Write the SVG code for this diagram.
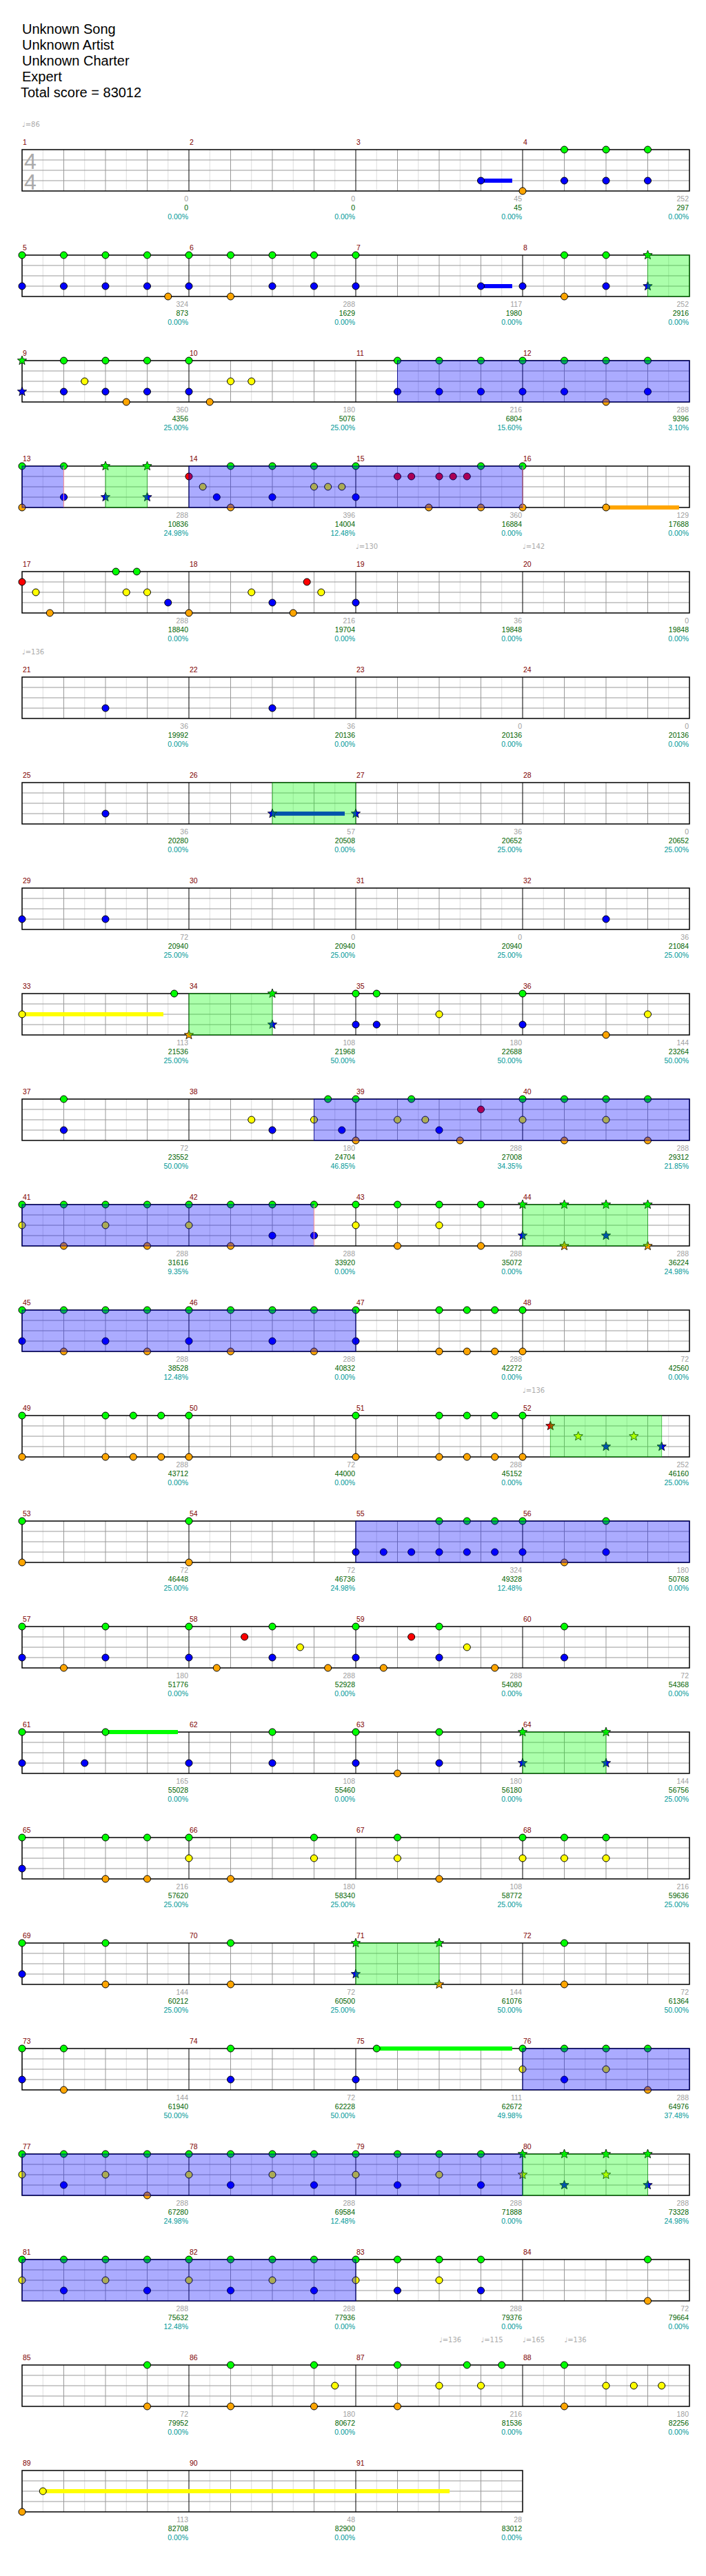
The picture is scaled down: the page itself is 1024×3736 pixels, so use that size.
<svg xmlns="http://www.w3.org/2000/svg" xmlns:xlink="http://www.w3.org/1999/xlink" width="1024" height="3736" viewBox="0 0 1024 3736">
<style>
text{font-family:"Liberation Sans",Arial,sans-serif}
.title{font-size:20px;fill:#000}
.mn{font-size:10.5px;fill:#800000}
.s1,.s2,.s3{font-size:10.5px;text-anchor:end}
.s1{fill:#a0a0a0}.s2{fill:#006400}.s3{fill:#009999}
.tp{font-family:"DejaVu Sans",sans-serif;font-size:10px;fill:#aaa}
.ts{font-size:32px;fill:#aaa}
circle{stroke:#000;stroke-width:1}
.G{fill:#00ff00}.R{fill:#ff0000}.Y{fill:#ffff00}.B{fill:#0000ff}.O{fill:#ffa500}
.bz{fill:#0000ff;fill-opacity:.33;stroke:#00008b;stroke-opacity:.8}
.gz{fill:#00ff00;fill-opacity:.33;stroke:#00a000;stroke-opacity:.6}
.pk{stroke:#ff9090;stroke-width:1}
</style>
<defs>
<path id="st" d="M0,-7 L1.76,-2.43 L6.66,-2.16 L2.85,0.93 L4.11,5.66 L0,3 L-4.11,5.66 L-2.85,0.93 L-6.66,-2.16 L-1.76,-2.43 Z" stroke="#000" stroke-width="0.8"/>
<g id="staff">
<path d="M62.25,0V60M122.75,0V60M183.25,0V60M243.75,0V60M304.25,0V60M364.75,0V60M425.25,0V60M485.75,0V60M546.25,0V60M606.75,0V60M667.25,0V60M727.75,0V60M788.25,0V60M848.75,0V60M909.25,0V60M969.75,0V60" stroke="#dddddd" stroke-width="1"/>
<path d="M92.5,0V60M153,0V60M213.5,0V60M334.5,0V60M395,0V60M455.5,0V60M576.5,0V60M637,0V60M697.5,0V60M818.5,0V60M879,0V60M939.5,0V60M32,15H1000M32,30H1000M32,45H1000" stroke="#999" stroke-width="1"/>
<path d="M274,0V60M516,0V60M758,0V60" stroke="#000" stroke-width="1"/>
<rect x="32" y="0" width="968" height="60" fill="none" stroke="#000" stroke-width="1.5"/>
</g>
<g id="staff3">
<path d="M62.25,0V60M122.75,0V60M183.25,0V60M243.75,0V60M304.25,0V60M364.75,0V60M425.25,0V60M485.75,0V60M546.25,0V60M606.75,0V60M667.25,0V60M727.75,0V60" stroke="#dddddd" stroke-width="1"/>
<path d="M92.5,0V60M153,0V60M213.5,0V60M334.5,0V60M395,0V60M455.5,0V60M576.5,0V60M637,0V60M697.5,0V60M32,15H758M32,30H758M32,45H758" stroke="#999" stroke-width="1"/>
<path d="M274,0V60M516,0V60" stroke="#000" stroke-width="1"/>
<rect x="32" y="0" width="726" height="60" fill="none" stroke="#000" stroke-width="1.5"/>
</g>
</defs>
<rect width="1024" height="3736" fill="#fff"/>
<g id="header">
<text class="title" x="32" y="49">Unknown Song</text>
<text class="title" x="32" y="72">Unknown Artist</text>
<text class="title" x="32" y="95">Unknown Charter</text>
<text class="title" x="32" y="118">Expert</text>
<text class="title" x="30" y="141">Total score = 83012</text>
</g>

<g id="row1" transform="translate(0,217)">
<text class="tp" x="32" y="-33">♩=86</text>
<use href="#staff"/>
<text class="ts" x="35" y="28">4</text><text class="ts" x="35" y="58">4</text>
<text class="mn" x="33" y="-7">1</text><text class="mn" x="275" y="-7">2</text><text class="mn" x="517" y="-7">3</text><text class="mn" x="759" y="-7">4</text>
<rect class="B" x="697.5" y="42" width="45.4" height="6"/>
<circle class="B" cx="697.5" cy="45" r="5"/>
<circle class="O" cx="758" cy="60" r="5"/>
<circle class="G" cx="818.5" cy="0" r="5"/><circle class="G" cx="879" cy="0" r="5"/><circle class="G" cx="939.5" cy="0" r="5"/>
<circle class="B" cx="818.5" cy="45" r="5"/><circle class="B" cx="879" cy="45" r="5"/><circle class="B" cx="939.5" cy="45" r="5"/>
<text class="s1" x="273" y="75">0</text><text class="s2" x="273" y="88">0</text><text class="s3" x="273" y="101">0.00%</text>
<text class="s1" x="515" y="75">0</text><text class="s2" x="515" y="88">0</text><text class="s3" x="515" y="101">0.00%</text>
<text class="s1" x="757" y="75">45</text><text class="s2" x="757" y="88">45</text><text class="s3" x="757" y="101">0.00%</text>
<text class="s1" x="999" y="75">252</text><text class="s2" x="999" y="88">297</text><text class="s3" x="999" y="101">0.00%</text>
</g>

<g id="row2" transform="translate(0,370)">
<use href="#staff"/>
<text class="mn" x="33" y="-7">5</text><text class="mn" x="275" y="-7">6</text><text class="mn" x="517" y="-7">7</text><text class="mn" x="759" y="-7">8</text>
<rect class="B" x="697.5" y="42" width="45.4" height="6"/>
<circle class="G" cx="32" cy="0" r="5"/><circle class="G" cx="92.5" cy="0" r="5"/><circle class="G" cx="153" cy="0" r="5"/><circle class="G" cx="213.5" cy="0" r="5"/><circle class="G" cx="274" cy="0" r="5"/><circle class="G" cx="334.5" cy="0" r="5"/><circle class="G" cx="395" cy="0" r="5"/><circle class="G" cx="455.5" cy="0" r="5"/><circle class="G" cx="516" cy="0" r="5"/><circle class="G" cx="818.5" cy="0" r="5"/><circle class="G" cx="879" cy="0" r="5"/>
<circle class="B" cx="32" cy="45" r="5"/><circle class="B" cx="92.5" cy="45" r="5"/><circle class="B" cx="153" cy="45" r="5"/><circle class="B" cx="213.5" cy="45" r="5"/><circle class="B" cx="274" cy="45" r="5"/><circle class="B" cx="395" cy="45" r="5"/><circle class="B" cx="455.5" cy="45" r="5"/><circle class="B" cx="516" cy="45" r="5"/><circle class="B" cx="697.5" cy="45" r="5"/><circle class="B" cx="758" cy="45" r="5"/><circle class="B" cx="879" cy="45" r="5"/>
<circle class="O" cx="243.75" cy="60" r="5"/><circle class="O" cx="334.5" cy="60" r="5"/><circle class="O" cx="818.5" cy="60" r="5"/>
<use href="#st" class="G" x="939.5" y="0"/><use href="#st" class="B" x="939.5" y="45"/>
<rect class="gz" x="939.5" y="0" width="60.5" height="60"/>
<text class="s1" x="273" y="75">324</text><text class="s2" x="273" y="88">873</text><text class="s3" x="273" y="101">0.00%</text>
<text class="s1" x="515" y="75">288</text><text class="s2" x="515" y="88">1629</text><text class="s3" x="515" y="101">0.00%</text>
<text class="s1" x="757" y="75">117</text><text class="s2" x="757" y="88">1980</text><text class="s3" x="757" y="101">0.00%</text>
<text class="s1" x="999" y="75">252</text><text class="s2" x="999" y="88">2916</text><text class="s3" x="999" y="101">0.00%</text>
</g>

<g id="row3" transform="translate(0,523)">
<use href="#staff"/>
<text class="mn" x="33" y="-7">9</text><text class="mn" x="275" y="-7">10</text><text class="mn" x="517" y="-7">11</text><text class="mn" x="759" y="-7">12</text>
<use href="#st" class="G" x="32" y="0"/><use href="#st" class="B" x="32" y="45"/>
<circle class="G" cx="92.5" cy="0" r="5"/><circle class="G" cx="153" cy="0" r="5"/><circle class="G" cx="213.5" cy="0" r="5"/><circle class="G" cx="274" cy="0" r="5"/><circle class="G" cx="576.5" cy="0" r="5"/><circle class="G" cx="637" cy="0" r="5"/><circle class="G" cx="697.5" cy="0" r="5"/><circle class="G" cx="758" cy="0" r="5"/><circle class="G" cx="818.5" cy="0" r="5"/><circle class="G" cx="879" cy="0" r="5"/><circle class="G" cx="939.5" cy="0" r="5"/>
<circle class="Y" cx="122.75" cy="30" r="5"/><circle class="Y" cx="334.5" cy="30" r="5"/><circle class="Y" cx="364.75" cy="30" r="5"/>
<circle class="B" cx="92.5" cy="45" r="5"/><circle class="B" cx="153" cy="45" r="5"/><circle class="B" cx="213.5" cy="45" r="5"/><circle class="B" cx="274" cy="45" r="5"/><circle class="B" cx="576.5" cy="45" r="5"/><circle class="B" cx="637" cy="45" r="5"/><circle class="B" cx="697.5" cy="45" r="5"/><circle class="B" cx="758" cy="45" r="5"/><circle class="B" cx="818.5" cy="45" r="5"/><circle class="B" cx="939.5" cy="45" r="5"/>
<circle class="O" cx="183.25" cy="60" r="5"/><circle class="O" cx="304.25" cy="60" r="5"/><circle class="O" cx="879" cy="60" r="5"/>
<rect class="bz" x="576.5" y="0" width="423.5" height="60"/>
<text class="s1" x="273" y="75">360</text><text class="s2" x="273" y="88">4356</text><text class="s3" x="273" y="101">25.00%</text>
<text class="s1" x="515" y="75">180</text><text class="s2" x="515" y="88">5076</text><text class="s3" x="515" y="101">25.00%</text>
<text class="s1" x="757" y="75">216</text><text class="s2" x="757" y="88">6804</text><text class="s3" x="757" y="101">15.60%</text>
<text class="s1" x="999" y="75">288</text><text class="s2" x="999" y="88">9396</text><text class="s3" x="999" y="101">3.10%</text>
</g>

<g id="row4" transform="translate(0,676)">
<use href="#staff"/>
<text class="mn" x="33" y="-7">13</text><text class="mn" x="275" y="-7">14</text><text class="mn" x="517" y="-7">15</text><text class="mn" x="759" y="-7">16</text>
<rect class="O" x="879" y="57" width="105.9" height="6"/>
<circle class="G" cx="32" cy="0" r="5"/><circle class="G" cx="92.5" cy="0" r="5"/><circle class="G" cx="334.5" cy="0" r="5"/><circle class="G" cx="395" cy="0" r="5"/><circle class="G" cx="455.5" cy="0" r="5"/><circle class="G" cx="516" cy="0" r="5"/><circle class="G" cx="697.5" cy="0" r="5"/><circle class="G" cx="758" cy="0" r="5"/>
<circle class="R" cx="274" cy="15" r="5"/><circle class="R" cx="576.5" cy="15" r="5"/><circle class="R" cx="596.67" cy="15" r="5"/><circle class="R" cx="637" cy="15" r="5"/><circle class="R" cx="657.17" cy="15" r="5"/><circle class="R" cx="677.33" cy="15" r="5"/>
<circle class="Y" cx="294.17" cy="30" r="5"/><circle class="Y" cx="455.5" cy="30" r="5"/><circle class="Y" cx="475.67" cy="30" r="5"/><circle class="Y" cx="495.83" cy="30" r="5"/>
<circle class="B" cx="92.5" cy="45" r="5"/><circle class="B" cx="314.33" cy="45" r="5"/><circle class="B" cx="395" cy="45" r="5"/><circle class="B" cx="516" cy="45" r="5"/>
<circle class="O" cx="32" cy="60" r="5"/><circle class="O" cx="334.5" cy="60" r="5"/><circle class="O" cx="621.9" cy="60" r="5"/><circle class="O" cx="697.5" cy="60" r="5"/><circle class="O" cx="758" cy="60" r="5"/><circle class="O" cx="879" cy="60" r="5"/>
<use href="#st" class="G" x="153" y="0"/><use href="#st" class="G" x="213.5" y="0"/><use href="#st" class="B" x="153" y="45"/><use href="#st" class="B" x="213.5" y="45"/>
<rect class="bz" x="32" y="0" width="60.5" height="60"/>
<rect class="gz" x="153" y="0" width="60.5" height="60"/>
<rect class="bz" x="274" y="0" width="484" height="60"/>
<path class="pk" d="M92.5,0.5V59.5M758,0.5V59.5"/>
<text class="s1" x="273" y="75">288</text><text class="s2" x="273" y="88">10836</text><text class="s3" x="273" y="101">24.98%</text>
<text class="s1" x="515" y="75">396</text><text class="s2" x="515" y="88">14004</text><text class="s3" x="515" y="101">12.48%</text>
<text class="s1" x="757" y="75">360</text><text class="s2" x="757" y="88">16884</text><text class="s3" x="757" y="101">0.00%</text>
<text class="s1" x="999" y="75">129</text><text class="s2" x="999" y="88">17688</text><text class="s3" x="999" y="101">0.00%</text>
</g>

<g id="row5" transform="translate(0,829)">
<text class="tp" x="516" y="-33">♩=130</text><text class="tp" x="758" y="-33">♩=142</text>
<use href="#staff"/>
<text class="mn" x="33" y="-7">17</text><text class="mn" x="275" y="-7">18</text><text class="mn" x="517" y="-7">19</text><text class="mn" x="759" y="-7">20</text>
<circle class="R" cx="32" cy="15" r="5"/><circle class="R" cx="445.2" cy="15" r="5"/>
<circle class="Y" cx="52" cy="30" r="5"/><circle class="Y" cx="183.25" cy="30" r="5"/><circle class="Y" cx="213.5" cy="30" r="5"/><circle class="Y" cx="364.75" cy="30" r="5"/><circle class="Y" cx="465.8" cy="30" r="5"/>
<circle class="O" cx="72.33" cy="60" r="5"/><circle class="O" cx="274" cy="60" r="5"/><circle class="O" cx="425.25" cy="60" r="5"/>
<circle class="G" cx="168.1" cy="0" r="5"/><circle class="G" cx="198.4" cy="0" r="5"/>
<circle class="B" cx="243.75" cy="45" r="5"/><circle class="B" cx="395" cy="45" r="5"/><circle class="B" cx="516" cy="45" r="5"/>
<text class="s1" x="273" y="75">288</text><text class="s2" x="273" y="88">18840</text><text class="s3" x="273" y="101">0.00%</text>
<text class="s1" x="515" y="75">216</text><text class="s2" x="515" y="88">19704</text><text class="s3" x="515" y="101">0.00%</text>
<text class="s1" x="757" y="75">36</text><text class="s2" x="757" y="88">19848</text><text class="s3" x="757" y="101">0.00%</text>
<text class="s1" x="999" y="75">0</text><text class="s2" x="999" y="88">19848</text><text class="s3" x="999" y="101">0.00%</text>
</g>

<g id="row6" transform="translate(0,982)">
<text class="tp" x="32" y="-33">♩=136</text>
<use href="#staff"/>
<text class="mn" x="33" y="-7">21</text><text class="mn" x="275" y="-7">22</text><text class="mn" x="517" y="-7">23</text><text class="mn" x="759" y="-7">24</text>
<circle class="B" cx="153" cy="45" r="5"/><circle class="B" cx="395" cy="45" r="5"/>
<text class="s1" x="273" y="75">36</text><text class="s2" x="273" y="88">19992</text><text class="s3" x="273" y="101">0.00%</text>
<text class="s1" x="515" y="75">36</text><text class="s2" x="515" y="88">20136</text><text class="s3" x="515" y="101">0.00%</text>
<text class="s1" x="757" y="75">0</text><text class="s2" x="757" y="88">20136</text><text class="s3" x="757" y="101">0.00%</text>
<text class="s1" x="999" y="75">0</text><text class="s2" x="999" y="88">20136</text><text class="s3" x="999" y="101">0.00%</text>
</g>

<g id="row7" transform="translate(0,1135)">
<use href="#staff"/>
<text class="mn" x="33" y="-7">25</text><text class="mn" x="275" y="-7">26</text><text class="mn" x="517" y="-7">27</text><text class="mn" x="759" y="-7">28</text>
<circle class="B" cx="153" cy="45" r="5"/>
<rect class="B" x="395" y="42" width="105" height="6"/>
<use href="#st" class="B" x="395" y="45"/><use href="#st" class="B" x="516" y="45"/>
<rect class="gz" x="395" y="0" width="121" height="60"/>
<text class="s1" x="273" y="75">36</text><text class="s2" x="273" y="88">20280</text><text class="s3" x="273" y="101">0.00%</text>
<text class="s1" x="515" y="75">57</text><text class="s2" x="515" y="88">20508</text><text class="s3" x="515" y="101">0.00%</text>
<text class="s1" x="757" y="75">36</text><text class="s2" x="757" y="88">20652</text><text class="s3" x="757" y="101">25.00%</text>
<text class="s1" x="999" y="75">0</text><text class="s2" x="999" y="88">20652</text><text class="s3" x="999" y="101">25.00%</text>
</g>

<g id="row8" transform="translate(0,1288)">
<use href="#staff"/>
<text class="mn" x="33" y="-7">29</text><text class="mn" x="275" y="-7">30</text><text class="mn" x="517" y="-7">31</text><text class="mn" x="759" y="-7">32</text>
<circle class="B" cx="32" cy="45" r="5"/><circle class="B" cx="153" cy="45" r="5"/><circle class="B" cx="879" cy="45" r="5"/>
<text class="s1" x="273" y="75">72</text><text class="s2" x="273" y="88">20940</text><text class="s3" x="273" y="101">25.00%</text>
<text class="s1" x="515" y="75">0</text><text class="s2" x="515" y="88">20940</text><text class="s3" x="515" y="101">25.00%</text>
<text class="s1" x="757" y="75">0</text><text class="s2" x="757" y="88">20940</text><text class="s3" x="757" y="101">25.00%</text>
<text class="s1" x="999" y="75">36</text><text class="s2" x="999" y="88">21084</text><text class="s3" x="999" y="101">25.00%</text>
</g>

<g id="row9" transform="translate(0,1441)">
<use href="#staff"/>
<text class="mn" x="33" y="-7">33</text><text class="mn" x="275" y="-7">34</text><text class="mn" x="517" y="-7">35</text><text class="mn" x="759" y="-7">36</text>
<rect class="Y" x="32" y="27" width="204.9" height="6"/>
<circle class="Y" cx="32" cy="30" r="5"/>
<circle class="G" cx="252.7" cy="0" r="5"/>
<use href="#st" class="O" x="274" y="60"/><use href="#st" class="G" x="395" y="0"/><use href="#st" class="B" x="395" y="45"/>
<circle class="G" cx="516" cy="0" r="5"/><circle class="G" cx="546.25" cy="0" r="5"/><circle class="G" cx="758" cy="0" r="5"/>
<circle class="B" cx="516" cy="45" r="5"/><circle class="B" cx="546.25" cy="45" r="5"/><circle class="B" cx="758" cy="45" r="5"/>
<circle class="Y" cx="637" cy="30" r="5"/><circle class="Y" cx="939.5" cy="30" r="5"/>
<circle class="O" cx="879" cy="60" r="5"/>
<rect class="gz" x="274" y="0" width="121" height="60"/>
<text class="s1" x="273" y="75">113</text><text class="s2" x="273" y="88">21536</text><text class="s3" x="273" y="101">25.00%</text>
<text class="s1" x="515" y="75">108</text><text class="s2" x="515" y="88">21968</text><text class="s3" x="515" y="101">50.00%</text>
<text class="s1" x="757" y="75">180</text><text class="s2" x="757" y="88">22688</text><text class="s3" x="757" y="101">50.00%</text>
<text class="s1" x="999" y="75">144</text><text class="s2" x="999" y="88">23264</text><text class="s3" x="999" y="101">50.00%</text>
</g>

<g id="row10" transform="translate(0,1594)">
<use href="#staff"/>
<text class="mn" x="33" y="-7">37</text><text class="mn" x="275" y="-7">38</text><text class="mn" x="517" y="-7">39</text><text class="mn" x="759" y="-7">40</text>
<circle class="G" cx="92.5" cy="0" r="5"/><circle class="G" cx="475.67" cy="0" r="5"/><circle class="G" cx="516" cy="0" r="5"/><circle class="G" cx="596.67" cy="0" r="5"/><circle class="G" cx="758" cy="0" r="5"/><circle class="G" cx="818.5" cy="0" r="5"/><circle class="G" cx="879" cy="0" r="5"/><circle class="G" cx="939.5" cy="0" r="5"/>
<circle class="R" cx="697.5" cy="15" r="5"/>
<circle class="Y" cx="364.75" cy="30" r="5"/><circle class="Y" cx="455.5" cy="30" r="5"/><circle class="Y" cx="576.5" cy="30" r="5"/><circle class="Y" cx="616.83" cy="30" r="5"/><circle class="Y" cx="758" cy="30" r="5"/><circle class="Y" cx="879" cy="30" r="5"/>
<circle class="B" cx="92.5" cy="45" r="5"/><circle class="B" cx="395" cy="45" r="5"/><circle class="B" cx="495.83" cy="45" r="5"/><circle class="B" cx="637" cy="45" r="5"/>
<circle class="O" cx="516" cy="60" r="5"/><circle class="O" cx="667.25" cy="60" r="5"/><circle class="O" cx="818.5" cy="60" r="5"/><circle class="O" cx="939.5" cy="60" r="5"/>
<rect class="bz" x="455.5" y="0" width="544.5" height="60"/>
<text class="s1" x="273" y="75">72</text><text class="s2" x="273" y="88">23552</text><text class="s3" x="273" y="101">50.00%</text>
<text class="s1" x="515" y="75">180</text><text class="s2" x="515" y="88">24704</text><text class="s3" x="515" y="101">46.85%</text>
<text class="s1" x="757" y="75">288</text><text class="s2" x="757" y="88">27008</text><text class="s3" x="757" y="101">34.35%</text>
<text class="s1" x="999" y="75">288</text><text class="s2" x="999" y="88">29312</text><text class="s3" x="999" y="101">21.85%</text>
</g>

<g id="row11" transform="translate(0,1747)">
<use href="#staff"/>
<text class="mn" x="33" y="-7">41</text><text class="mn" x="275" y="-7">42</text><text class="mn" x="517" y="-7">43</text><text class="mn" x="759" y="-7">44</text>
<circle class="G" cx="32" cy="0" r="5"/><circle class="G" cx="92.5" cy="0" r="5"/><circle class="G" cx="153" cy="0" r="5"/><circle class="G" cx="213.5" cy="0" r="5"/><circle class="G" cx="274" cy="0" r="5"/><circle class="G" cx="334.5" cy="0" r="5"/><circle class="G" cx="395" cy="0" r="5"/><circle class="G" cx="455.5" cy="0" r="5"/><circle class="G" cx="516" cy="0" r="5"/><circle class="G" cx="576.5" cy="0" r="5"/><circle class="G" cx="637" cy="0" r="5"/><circle class="G" cx="697.5" cy="0" r="5"/>
<circle class="Y" cx="32" cy="30" r="5"/><circle class="Y" cx="153" cy="30" r="5"/><circle class="Y" cx="274" cy="30" r="5"/><circle class="Y" cx="516" cy="30" r="5"/><circle class="Y" cx="637" cy="30" r="5"/>
<circle class="B" cx="395" cy="45" r="5"/><circle class="B" cx="455.5" cy="45" r="5"/>
<circle class="O" cx="92.5" cy="60" r="5"/><circle class="O" cx="213.5" cy="60" r="5"/><circle class="O" cx="334.5" cy="60" r="5"/><circle class="O" cx="576.5" cy="60" r="5"/><circle class="O" cx="697.5" cy="60" r="5"/>
<use href="#st" class="G" x="758" y="0"/><use href="#st" class="G" x="818.5" y="0"/><use href="#st" class="G" x="879" y="0"/><use href="#st" class="G" x="939.5" y="0"/>
<use href="#st" class="B" x="758" y="45"/><use href="#st" class="B" x="879" y="45"/>
<use href="#st" class="O" x="818.5" y="60"/><use href="#st" class="O" x="939.5" y="60"/>
<rect class="bz" x="32" y="0" width="423.5" height="60"/>
<rect class="gz" x="758" y="0" width="181.5" height="60"/>
<path class="pk" d="M455.5,0.5V59.5"/>
<text class="s1" x="273" y="75">288</text><text class="s2" x="273" y="88">31616</text><text class="s3" x="273" y="101">9.35%</text>
<text class="s1" x="515" y="75">288</text><text class="s2" x="515" y="88">33920</text><text class="s3" x="515" y="101">0.00%</text>
<text class="s1" x="757" y="75">288</text><text class="s2" x="757" y="88">35072</text><text class="s3" x="757" y="101">0.00%</text>
<text class="s1" x="999" y="75">288</text><text class="s2" x="999" y="88">36224</text><text class="s3" x="999" y="101">24.98%</text>
</g>

<g id="row12" transform="translate(0,1900)">
<use href="#staff"/>
<text class="mn" x="33" y="-7">45</text><text class="mn" x="275" y="-7">46</text><text class="mn" x="517" y="-7">47</text><text class="mn" x="759" y="-7">48</text>
<circle class="G" cx="32" cy="0" r="5"/><circle class="G" cx="92.5" cy="0" r="5"/><circle class="G" cx="153" cy="0" r="5"/><circle class="G" cx="213.5" cy="0" r="5"/><circle class="G" cx="274" cy="0" r="5"/><circle class="G" cx="334.5" cy="0" r="5"/><circle class="G" cx="395" cy="0" r="5"/><circle class="G" cx="455.5" cy="0" r="5"/><circle class="G" cx="516" cy="0" r="5"/><circle class="G" cx="637" cy="0" r="5"/><circle class="G" cx="677.33" cy="0" r="5"/><circle class="G" cx="717.67" cy="0" r="5"/><circle class="G" cx="758" cy="0" r="5"/>
<circle class="B" cx="32" cy="45" r="5"/><circle class="B" cx="153" cy="45" r="5"/><circle class="B" cx="274" cy="45" r="5"/><circle class="B" cx="395" cy="45" r="5"/><circle class="B" cx="516" cy="45" r="5"/>
<circle class="O" cx="92.5" cy="60" r="5"/><circle class="O" cx="213.5" cy="60" r="5"/><circle class="O" cx="334.5" cy="60" r="5"/><circle class="O" cx="455.5" cy="60" r="5"/><circle class="O" cx="637" cy="60" r="5"/><circle class="O" cx="677.33" cy="60" r="5"/><circle class="O" cx="717.67" cy="60" r="5"/><circle class="O" cx="758" cy="60" r="5"/>
<rect class="bz" x="32" y="0" width="484" height="60"/>
<text class="s1" x="273" y="75">288</text><text class="s2" x="273" y="88">38528</text><text class="s3" x="273" y="101">12.48%</text>
<text class="s1" x="515" y="75">288</text><text class="s2" x="515" y="88">40832</text><text class="s3" x="515" y="101">0.00%</text>
<text class="s1" x="757" y="75">288</text><text class="s2" x="757" y="88">42272</text><text class="s3" x="757" y="101">0.00%</text>
<text class="s1" x="999" y="75">72</text><text class="s2" x="999" y="88">42560</text><text class="s3" x="999" y="101">0.00%</text>
</g>

<g id="row13" transform="translate(0,2053)">
<text class="tp" x="758" y="-33">♩=136</text>
<use href="#staff"/>
<text class="mn" x="33" y="-7">49</text><text class="mn" x="275" y="-7">50</text><text class="mn" x="517" y="-7">51</text><text class="mn" x="759" y="-7">52</text>
<circle class="G" cx="32" cy="0" r="5"/><circle class="G" cx="153" cy="0" r="5"/><circle class="G" cx="193.33" cy="0" r="5"/><circle class="G" cx="233.67" cy="0" r="5"/><circle class="G" cx="274" cy="0" r="5"/><circle class="G" cx="516" cy="0" r="5"/><circle class="G" cx="637" cy="0" r="5"/><circle class="G" cx="677.33" cy="0" r="5"/><circle class="G" cx="717.67" cy="0" r="5"/><circle class="G" cx="758" cy="0" r="5"/>
<circle class="O" cx="32" cy="60" r="5"/><circle class="O" cx="153" cy="60" r="5"/><circle class="O" cx="193.33" cy="60" r="5"/><circle class="O" cx="233.67" cy="60" r="5"/><circle class="O" cx="274" cy="60" r="5"/><circle class="O" cx="516" cy="60" r="5"/><circle class="O" cx="637" cy="60" r="5"/><circle class="O" cx="677.33" cy="60" r="5"/><circle class="O" cx="717.67" cy="60" r="5"/><circle class="O" cx="758" cy="60" r="5"/>
<use href="#st" class="R" x="798.33" y="15"/><use href="#st" class="Y" x="838.67" y="30"/><use href="#st" class="B" x="879" y="45"/><use href="#st" class="Y" x="919.33" y="30"/><use href="#st" class="B" x="959.67" y="45"/>
<rect class="gz" x="798.33" y="0" width="161.34" height="60"/>
<text class="s1" x="273" y="75">288</text><text class="s2" x="273" y="88">43712</text><text class="s3" x="273" y="101">0.00%</text>
<text class="s1" x="515" y="75">72</text><text class="s2" x="515" y="88">44000</text><text class="s3" x="515" y="101">0.00%</text>
<text class="s1" x="757" y="75">288</text><text class="s2" x="757" y="88">45152</text><text class="s3" x="757" y="101">0.00%</text>
<text class="s1" x="999" y="75">252</text><text class="s2" x="999" y="88">46160</text><text class="s3" x="999" y="101">25.00%</text>
</g>

<g id="row14" transform="translate(0,2206)">
<use href="#staff"/>
<text class="mn" x="33" y="-7">53</text><text class="mn" x="275" y="-7">54</text><text class="mn" x="517" y="-7">55</text><text class="mn" x="759" y="-7">56</text>
<circle class="G" cx="32" cy="0" r="5"/><circle class="G" cx="274" cy="0" r="5"/><circle class="G" cx="637" cy="0" r="5"/><circle class="G" cx="677.33" cy="0" r="5"/><circle class="G" cx="717.67" cy="0" r="5"/><circle class="G" cx="758" cy="0" r="5"/><circle class="G" cx="879" cy="0" r="5"/>
<circle class="B" cx="516" cy="45" r="5"/><circle class="B" cx="556.33" cy="45" r="5"/><circle class="B" cx="596.67" cy="45" r="5"/><circle class="B" cx="637" cy="45" r="5"/><circle class="B" cx="677.33" cy="45" r="5"/><circle class="B" cx="717.67" cy="45" r="5"/><circle class="B" cx="758" cy="45" r="5"/><circle class="B" cx="879" cy="45" r="5"/>
<circle class="O" cx="32" cy="60" r="5"/><circle class="O" cx="274" cy="60" r="5"/><circle class="O" cx="818.5" cy="60" r="5"/>
<rect class="bz" x="516" y="0" width="484" height="60"/>
<text class="s1" x="273" y="75">72</text><text class="s2" x="273" y="88">46448</text><text class="s3" x="273" y="101">25.00%</text>
<text class="s1" x="515" y="75">72</text><text class="s2" x="515" y="88">46736</text><text class="s3" x="515" y="101">24.98%</text>
<text class="s1" x="757" y="75">324</text><text class="s2" x="757" y="88">49328</text><text class="s3" x="757" y="101">12.48%</text>
<text class="s1" x="999" y="75">180</text><text class="s2" x="999" y="88">50768</text><text class="s3" x="999" y="101">0.00%</text>
</g>

<g id="row15" transform="translate(0,2359)">
<use href="#staff"/>
<text class="mn" x="33" y="-7">57</text><text class="mn" x="275" y="-7">58</text><text class="mn" x="517" y="-7">59</text><text class="mn" x="759" y="-7">60</text>
<circle class="G" cx="32" cy="0" r="5"/><circle class="G" cx="153" cy="0" r="5"/><circle class="G" cx="274" cy="0" r="5"/><circle class="G" cx="395" cy="0" r="5"/><circle class="G" cx="516" cy="0" r="5"/><circle class="G" cx="637" cy="0" r="5"/><circle class="G" cx="818.5" cy="0" r="5"/>
<circle class="R" cx="354.67" cy="15" r="5"/><circle class="R" cx="596.67" cy="15" r="5"/>
<circle class="Y" cx="435.33" cy="30" r="5"/><circle class="Y" cx="677.33" cy="30" r="5"/>
<circle class="B" cx="32" cy="45" r="5"/><circle class="B" cx="153" cy="45" r="5"/><circle class="B" cx="274" cy="45" r="5"/><circle class="B" cx="395" cy="45" r="5"/><circle class="B" cx="516" cy="45" r="5"/><circle class="B" cx="637" cy="45" r="5"/><circle class="B" cx="818.5" cy="45" r="5"/>
<circle class="O" cx="92.5" cy="60" r="5"/><circle class="O" cx="314.33" cy="60" r="5"/><circle class="O" cx="475.67" cy="60" r="5"/><circle class="O" cx="556.33" cy="60" r="5"/><circle class="O" cx="717.67" cy="60" r="5"/>
<text class="s1" x="273" y="75">180</text><text class="s2" x="273" y="88">51776</text><text class="s3" x="273" y="101">0.00%</text>
<text class="s1" x="515" y="75">288</text><text class="s2" x="515" y="88">52928</text><text class="s3" x="515" y="101">0.00%</text>
<text class="s1" x="757" y="75">288</text><text class="s2" x="757" y="88">54080</text><text class="s3" x="757" y="101">0.00%</text>
<text class="s1" x="999" y="75">72</text><text class="s2" x="999" y="88">54368</text><text class="s3" x="999" y="101">0.00%</text>
</g>

<g id="row16" transform="translate(0,2512)">
<use href="#staff"/>
<text class="mn" x="33" y="-7">61</text><text class="mn" x="275" y="-7">62</text><text class="mn" x="517" y="-7">63</text><text class="mn" x="759" y="-7">64</text>
<rect class="G" x="153" y="-3" width="105" height="6"/>
<circle class="G" cx="32" cy="0" r="5"/><circle class="G" cx="153" cy="0" r="5"/><circle class="G" cx="395" cy="0" r="5"/><circle class="G" cx="516" cy="0" r="5"/><circle class="G" cx="637" cy="0" r="5"/>
<circle class="B" cx="32" cy="45" r="5"/><circle class="B" cx="122.75" cy="45" r="5"/><circle class="B" cx="274" cy="45" r="5"/><circle class="B" cx="395" cy="45" r="5"/><circle class="B" cx="516" cy="45" r="5"/><circle class="B" cx="637" cy="45" r="5"/>
<circle class="O" cx="576.5" cy="60" r="5"/>
<use href="#st" class="G" x="758" y="0"/><use href="#st" class="G" x="879" y="0"/><use href="#st" class="B" x="758" y="45"/><use href="#st" class="B" x="879" y="45"/>
<rect class="gz" x="758" y="0" width="121" height="60"/>
<text class="s1" x="273" y="75">165</text><text class="s2" x="273" y="88">55028</text><text class="s3" x="273" y="101">0.00%</text>
<text class="s1" x="515" y="75">108</text><text class="s2" x="515" y="88">55460</text><text class="s3" x="515" y="101">0.00%</text>
<text class="s1" x="757" y="75">180</text><text class="s2" x="757" y="88">56180</text><text class="s3" x="757" y="101">0.00%</text>
<text class="s1" x="999" y="75">144</text><text class="s2" x="999" y="88">56756</text><text class="s3" x="999" y="101">25.00%</text>
</g>

<g id="row17" transform="translate(0,2665)">
<use href="#staff"/>
<text class="mn" x="33" y="-7">65</text><text class="mn" x="275" y="-7">66</text><text class="mn" x="517" y="-7">67</text><text class="mn" x="759" y="-7">68</text>
<circle class="G" cx="32" cy="0" r="5"/><circle class="G" cx="153" cy="0" r="5"/><circle class="G" cx="213.5" cy="0" r="5"/><circle class="G" cx="274" cy="0" r="5"/><circle class="G" cx="455.5" cy="0" r="5"/><circle class="G" cx="576.5" cy="0" r="5"/><circle class="G" cx="758" cy="0" r="5"/><circle class="G" cx="818.5" cy="0" r="5"/><circle class="G" cx="879" cy="0" r="5"/>
<circle class="Y" cx="274" cy="30" r="5"/><circle class="Y" cx="455.5" cy="30" r="5"/><circle class="Y" cx="576.5" cy="30" r="5"/><circle class="Y" cx="758" cy="30" r="5"/><circle class="Y" cx="818.5" cy="30" r="5"/><circle class="Y" cx="879" cy="30" r="5"/>
<circle class="B" cx="32" cy="45" r="5"/>
<circle class="O" cx="153" cy="60" r="5"/><circle class="O" cx="213.5" cy="60" r="5"/><circle class="O" cx="334.5" cy="60" r="5"/><circle class="O" cx="637" cy="60" r="5"/>
<text class="s1" x="273" y="75">216</text><text class="s2" x="273" y="88">57620</text><text class="s3" x="273" y="101">25.00%</text>
<text class="s1" x="515" y="75">180</text><text class="s2" x="515" y="88">58340</text><text class="s3" x="515" y="101">25.00%</text>
<text class="s1" x="757" y="75">108</text><text class="s2" x="757" y="88">58772</text><text class="s3" x="757" y="101">25.00%</text>
<text class="s1" x="999" y="75">216</text><text class="s2" x="999" y="88">59636</text><text class="s3" x="999" y="101">25.00%</text>
</g>

<g id="row18" transform="translate(0,2818)">
<use href="#staff"/>
<text class="mn" x="33" y="-7">69</text><text class="mn" x="275" y="-7">70</text><text class="mn" x="517" y="-7">71</text><text class="mn" x="759" y="-7">72</text>
<circle class="G" cx="32" cy="0" r="5"/><circle class="G" cx="153" cy="0" r="5"/><circle class="G" cx="334.5" cy="0" r="5"/><circle class="G" cx="818.5" cy="0" r="5"/>
<circle class="B" cx="32" cy="45" r="5"/>
<circle class="O" cx="153" cy="60" r="5"/><circle class="O" cx="334.5" cy="60" r="5"/><circle class="O" cx="818.5" cy="60" r="5"/>
<use href="#st" class="G" x="516" y="0"/><use href="#st" class="G" x="637" y="0"/><use href="#st" class="B" x="516" y="45"/><use href="#st" class="O" x="637" y="60"/>
<rect class="gz" x="516" y="0" width="121" height="60"/>
<text class="s1" x="273" y="75">144</text><text class="s2" x="273" y="88">60212</text><text class="s3" x="273" y="101">25.00%</text>
<text class="s1" x="515" y="75">72</text><text class="s2" x="515" y="88">60500</text><text class="s3" x="515" y="101">25.00%</text>
<text class="s1" x="757" y="75">144</text><text class="s2" x="757" y="88">61076</text><text class="s3" x="757" y="101">50.00%</text>
<text class="s1" x="999" y="75">72</text><text class="s2" x="999" y="88">61364</text><text class="s3" x="999" y="101">50.00%</text>
</g>

<g id="row19" transform="translate(0,2971)">
<use href="#staff"/>
<text class="mn" x="33" y="-7">73</text><text class="mn" x="275" y="-7">74</text><text class="mn" x="517" y="-7">75</text><text class="mn" x="759" y="-7">76</text>
<rect class="G" x="546.25" y="-3" width="196.65" height="6"/>
<circle class="G" cx="32" cy="0" r="5"/><circle class="G" cx="92.5" cy="0" r="5"/><circle class="G" cx="334.5" cy="0" r="5"/><circle class="G" cx="546.25" cy="0" r="5"/><circle class="G" cx="758" cy="0" r="5"/><circle class="G" cx="818.5" cy="0" r="5"/><circle class="G" cx="879" cy="0" r="5"/><circle class="G" cx="939.5" cy="0" r="5"/>
<circle class="Y" cx="758" cy="30" r="5"/><circle class="Y" cx="879" cy="30" r="5"/>
<circle class="B" cx="32" cy="45" r="5"/><circle class="B" cx="334.5" cy="45" r="5"/><circle class="B" cx="516" cy="45" r="5"/><circle class="B" cx="818.5" cy="45" r="5"/>
<circle class="O" cx="92.5" cy="60" r="5"/><circle class="O" cx="939.5" cy="60" r="5"/>
<rect class="bz" x="758" y="0" width="242" height="60"/>
<text class="s1" x="273" y="75">144</text><text class="s2" x="273" y="88">61940</text><text class="s3" x="273" y="101">50.00%</text>
<text class="s1" x="515" y="75">72</text><text class="s2" x="515" y="88">62228</text><text class="s3" x="515" y="101">50.00%</text>
<text class="s1" x="757" y="75">111</text><text class="s2" x="757" y="88">62672</text><text class="s3" x="757" y="101">49.98%</text>
<text class="s1" x="999" y="75">288</text><text class="s2" x="999" y="88">64976</text><text class="s3" x="999" y="101">37.48%</text>
</g>

<g id="row20" transform="translate(0,3124)">
<use href="#staff"/>
<text class="mn" x="33" y="-7">77</text><text class="mn" x="275" y="-7">78</text><text class="mn" x="517" y="-7">79</text><text class="mn" x="759" y="-7">80</text>
<circle class="G" cx="32" cy="0" r="5"/><circle class="G" cx="92.5" cy="0" r="5"/><circle class="G" cx="153" cy="0" r="5"/><circle class="G" cx="213.5" cy="0" r="5"/><circle class="G" cx="274" cy="0" r="5"/><circle class="G" cx="334.5" cy="0" r="5"/><circle class="G" cx="395" cy="0" r="5"/><circle class="G" cx="455.5" cy="0" r="5"/><circle class="G" cx="516" cy="0" r="5"/><circle class="G" cx="576.5" cy="0" r="5"/><circle class="G" cx="637" cy="0" r="5"/><circle class="G" cx="697.5" cy="0" r="5"/>
<circle class="Y" cx="32" cy="30" r="5"/><circle class="Y" cx="153" cy="30" r="5"/><circle class="Y" cx="274" cy="30" r="5"/><circle class="Y" cx="395" cy="30" r="5"/><circle class="Y" cx="516" cy="30" r="5"/><circle class="Y" cx="637" cy="30" r="5"/>
<circle class="B" cx="92.5" cy="45" r="5"/><circle class="B" cx="334.5" cy="45" r="5"/><circle class="B" cx="455.5" cy="45" r="5"/><circle class="B" cx="576.5" cy="45" r="5"/><circle class="B" cx="697.5" cy="45" r="5"/>
<circle class="O" cx="213.5" cy="60" r="5"/>
<use href="#st" class="G" x="758" y="0"/><use href="#st" class="G" x="818.5" y="0"/><use href="#st" class="G" x="879" y="0"/><use href="#st" class="G" x="939.5" y="0"/>
<use href="#st" class="Y" x="758" y="30"/><use href="#st" class="Y" x="879" y="30"/>
<use href="#st" class="B" x="818.5" y="45"/><use href="#st" class="B" x="939.5" y="45"/>
<rect class="bz" x="32" y="0" width="726" height="60"/>
<rect class="gz" x="758" y="0" width="181.5" height="60"/>
<text class="s1" x="273" y="75">288</text><text class="s2" x="273" y="88">67280</text><text class="s3" x="273" y="101">24.98%</text>
<text class="s1" x="515" y="75">288</text><text class="s2" x="515" y="88">69584</text><text class="s3" x="515" y="101">12.48%</text>
<text class="s1" x="757" y="75">288</text><text class="s2" x="757" y="88">71888</text><text class="s3" x="757" y="101">0.00%</text>
<text class="s1" x="999" y="75">288</text><text class="s2" x="999" y="88">73328</text><text class="s3" x="999" y="101">24.98%</text>
</g>

<g id="row21" transform="translate(0,3277)">
<use href="#staff"/>
<text class="mn" x="33" y="-7">81</text><text class="mn" x="275" y="-7">82</text><text class="mn" x="517" y="-7">83</text><text class="mn" x="759" y="-7">84</text>
<circle class="G" cx="32" cy="0" r="5"/><circle class="G" cx="92.5" cy="0" r="5"/><circle class="G" cx="153" cy="0" r="5"/><circle class="G" cx="213.5" cy="0" r="5"/><circle class="G" cx="274" cy="0" r="5"/><circle class="G" cx="334.5" cy="0" r="5"/><circle class="G" cx="395" cy="0" r="5"/><circle class="G" cx="455.5" cy="0" r="5"/><circle class="G" cx="516" cy="0" r="5"/><circle class="G" cx="576.5" cy="0" r="5"/><circle class="G" cx="637" cy="0" r="5"/><circle class="G" cx="697.5" cy="0" r="5"/><circle class="G" cx="939.5" cy="0" r="5"/>
<circle class="Y" cx="32" cy="30" r="5"/><circle class="Y" cx="153" cy="30" r="5"/><circle class="Y" cx="274" cy="30" r="5"/><circle class="Y" cx="395" cy="30" r="5"/><circle class="Y" cx="516" cy="30" r="5"/><circle class="Y" cx="637" cy="30" r="5"/>
<circle class="B" cx="92.5" cy="45" r="5"/><circle class="B" cx="213.5" cy="45" r="5"/><circle class="B" cx="334.5" cy="45" r="5"/><circle class="B" cx="455.5" cy="45" r="5"/><circle class="B" cx="576.5" cy="45" r="5"/><circle class="B" cx="697.5" cy="45" r="5"/>
<circle class="O" cx="939.5" cy="60" r="5"/>
<rect class="bz" x="32" y="0" width="484" height="60"/>
<text class="s1" x="273" y="75">288</text><text class="s2" x="273" y="88">75632</text><text class="s3" x="273" y="101">12.48%</text>
<text class="s1" x="515" y="75">288</text><text class="s2" x="515" y="88">77936</text><text class="s3" x="515" y="101">0.00%</text>
<text class="s1" x="757" y="75">288</text><text class="s2" x="757" y="88">79376</text><text class="s3" x="757" y="101">0.00%</text>
<text class="s1" x="999" y="75">72</text><text class="s2" x="999" y="88">79664</text><text class="s3" x="999" y="101">0.00%</text>
</g>

<g id="row22" transform="translate(0,3430)">
<text class="tp" x="637" y="-33">♩=136</text><text class="tp" x="697.5" y="-33">♩=115</text><text class="tp" x="758" y="-33">♩=165</text><text class="tp" x="818.5" y="-33">♩=136</text>
<use href="#staff"/>
<text class="mn" x="33" y="-7">85</text><text class="mn" x="275" y="-7">86</text><text class="mn" x="517" y="-7">87</text><text class="mn" x="759" y="-7">88</text>
<circle class="G" cx="213.5" cy="0" r="5"/><circle class="G" cx="334.5" cy="0" r="5"/><circle class="G" cx="455.5" cy="0" r="5"/><circle class="G" cx="576.5" cy="0" r="5"/><circle class="G" cx="677.33" cy="0" r="5"/><circle class="G" cx="727.75" cy="0" r="5"/><circle class="G" cx="818.5" cy="0" r="5"/>
<circle class="Y" cx="485.75" cy="30" r="5"/><circle class="Y" cx="637" cy="30" r="5"/><circle class="Y" cx="697.5" cy="30" r="5"/><circle class="Y" cx="879" cy="30" r="5"/><circle class="Y" cx="919.33" cy="30" r="5"/><circle class="Y" cx="959.67" cy="30" r="5"/>
<circle class="O" cx="213.5" cy="60" r="5"/><circle class="O" cx="334.5" cy="60" r="5"/><circle class="O" cx="455.5" cy="60" r="5"/><circle class="O" cx="576.5" cy="60" r="5"/><circle class="O" cx="818.5" cy="60" r="5"/>
<text class="s1" x="273" y="75">72</text><text class="s2" x="273" y="88">79952</text><text class="s3" x="273" y="101">0.00%</text>
<text class="s1" x="515" y="75">180</text><text class="s2" x="515" y="88">80672</text><text class="s3" x="515" y="101">0.00%</text>
<text class="s1" x="757" y="75">216</text><text class="s2" x="757" y="88">81536</text><text class="s3" x="757" y="101">0.00%</text>
<text class="s1" x="999" y="75">180</text><text class="s2" x="999" y="88">82256</text><text class="s3" x="999" y="101">0.00%</text>
</g>

<g id="row23" transform="translate(0,3583)">
<use href="#staff3"/>
<text class="mn" x="33" y="-7">89</text><text class="mn" x="275" y="-7">90</text><text class="mn" x="517" y="-7">91</text>
<rect class="Y" x="62.25" y="27" width="589.85" height="6"/>
<circle class="Y" cx="62.25" cy="30" r="5"/>
<circle class="O" cx="32" cy="60" r="5"/>
<text class="s1" x="273" y="75">113</text><text class="s2" x="273" y="88">82708</text><text class="s3" x="273" y="101">0.00%</text>
<text class="s1" x="515" y="75">48</text><text class="s2" x="515" y="88">82900</text><text class="s3" x="515" y="101">0.00%</text>
<text class="s1" x="757" y="75">28</text><text class="s2" x="757" y="88">83012</text><text class="s3" x="757" y="101">0.00%</text>
</g>
</svg>
